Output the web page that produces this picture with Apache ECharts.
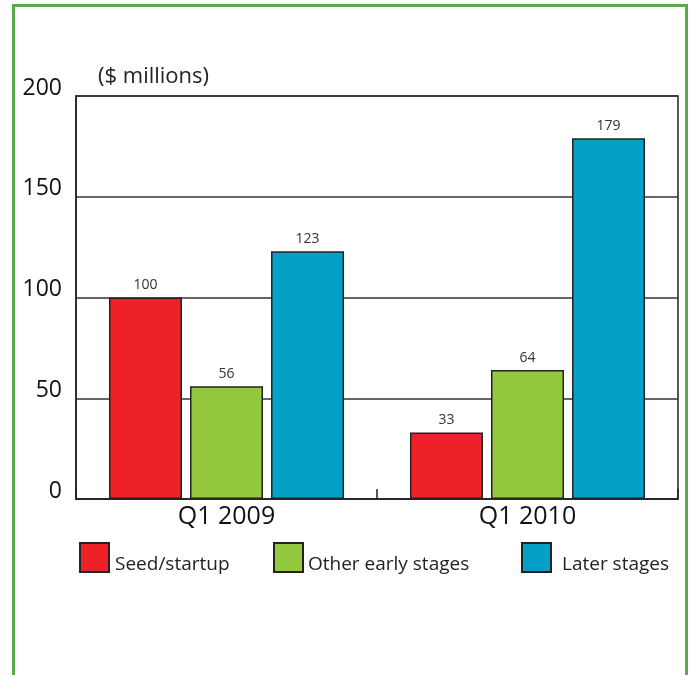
<!DOCTYPE html>
<html>
<head>
<meta charset="utf-8">
<script src="https://cdn.jsdelivr.net/npm/echarts@6/dist/echarts.min.js"></script>
<style>
  html, body { margin: 0; padding: 0; background: #fff; }
  #frame { position: absolute; left: 12px; top: 4px; width: 676px; height: 700px; border: 3px solid #5ca84c; box-sizing: border-box; }
  #chart { position: absolute; left: 0; top: 0; width: 689px; height: 675px; }
</style>
</head>
<body>
<div id="frame"></div>
<div id="chart"></div>
<script>
// Venture funding by stage, first quarter of each year
const categories = ['Q1 2009', 'Q1 2010'];
const seedStartup = [100, 33];
const otherEarly = [56, 64];
const laterStages = [123, 179];
const seriesNames = ['Seed/startup', 'Other early stages', 'Later stages'];
const yTicks = { min: 0, max: 200, interval: 50 };

const FONT = '"Open Sans", "Noto Sans", sans-serif';
const colors = ['#ed2127', '#93c83f', '#05a0c6'];
const values = [seedStartup, otherEarly, laterStages];

const chart = echarts.init(document.getElementById('chart'), null, { renderer: 'canvas' });

const series = seriesNames.map((name, i) => ({
  name: name,
  type: 'bar',
  data: values[i],
  barWidth: 73,
  barGap: '11%',
  itemStyle: { color: colors[i], borderColor: '#222', borderWidth: 1.5 },
  label: {
    show: true,
    position: 'top',
    distance: 5,
    fontFamily: FONT,
    fontSize: 14,
    color: '#333'
  },
  emphasis: { disabled: true }
}));

// one legend block per series so each can sit at its own spot
const legendLefts = [74, 268, 516];
const legendGaps = [6, 5, 11];
const legends = seriesNames.map((name, i) => ({
  data: [{ name: name, icon: 'rect' }],
  left: legendLefts[i],
  top: 537,
  itemWidth: 29,
  itemHeight: 29,
  selectedMode: false,
  formatter: '{t|{name}}',
  textStyle: {
    fontFamily: FONT, fontSize: 19, color: '#222',
    rich: { t: { fontFamily: FONT, fontSize: 19, color: '#222', padding: [14, 0, 0, legendGaps[i] - 5] } }
  }
}));

chart.setOption({
  animation: false,
  title: {
    text: '($ millions)',
    left: 93,
    top: 61,
    textStyle: { fontFamily: FONT, fontSize: 22, fontWeight: 'normal', color: '#222' }
  },
  legend: legends,
  grid: {
    left: 76, right: 11, top: 96, bottom: 176,
    show: true, borderColor: '#222', borderWidth: 1.5, backgroundColor: 'transparent'
  },
  xAxis: {
    type: 'category',
    data: categories,
    axisLine: { show: true, lineStyle: { color: '#222', width: 1.5 } },
    axisTick: { show: true, inside: true, length: 10, alignWithLabel: false, lineStyle: { color: '#222', width: 1.5 } },
    axisLabel: { fontFamily: FONT, fontSize: 25, color: '#111', margin: 5 }
  },
  yAxis: {
    type: 'value',
    min: yTicks.min,
    max: yTicks.max,
    interval: yTicks.interval,
    axisLine: { show: true, lineStyle: { color: '#222', width: 1.5 } },
    axisTick: { show: false },
    splitLine: { show: true, lineStyle: { color: '#333', width: 1.5 } },
    axisLabel: { fontFamily: FONT, fontSize: 23, color: '#111', margin: 14, verticalAlign: 'bottom', lineHeight: 16 }
  },
  series: series
});
</script>
</body>
</html>
